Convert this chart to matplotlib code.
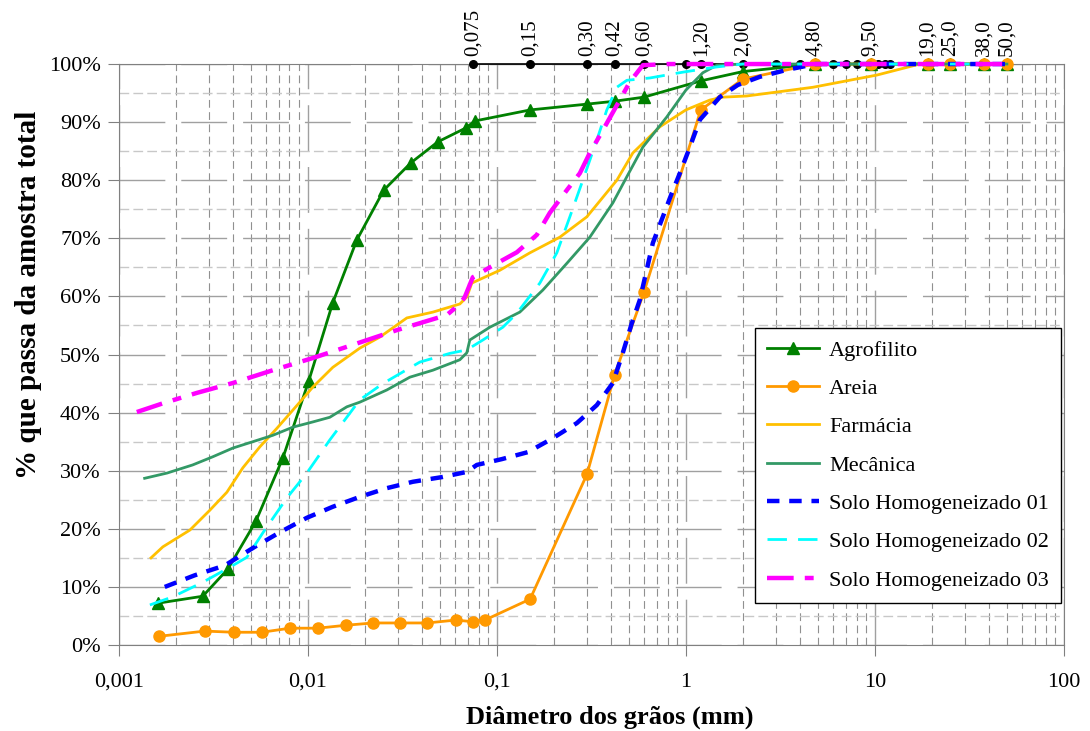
import numpy as np
import matplotlib.pyplot as plt
from matplotlib.ticker import FixedLocator, FuncFormatter, NullFormatter

plt.rcParams['font.family'] = ['Liberation Serif', 'DejaVu Serif']

# sieve reference line (top)
peneira_d = [0.075, 0.15, 0.30, 0.42, 0.60, 1.0, 1.20, 2.00, 3.0, 4.0, 4.80, 6.0, 7.0, 8.0,
             9.50, 10.4, 11.3, 12.0, 19.0, 25.0, 38.0, 50.0]
peneira_lbl_d = [0.075, 0.15, 0.30, 0.42, 0.60, 1.20, 2.00, 4.80, 9.50, 19.0, 25.0, 38.0, 50.0]
peneira_lbl = ['0,075', '0,15', '0,30', '0,42', '0,60', '1,20', '2,00', '4,80', '9,50',
               '19,0', '25,0', '38,0', '50,0']

agro_d = [0.00161, 0.00278, 0.00378, 0.00531, 0.00738, 0.0101, 0.01355, 0.01816, 0.02523,
          0.0351, 0.0487, 0.0686, 0.0765, 0.15, 0.30, 0.42, 0.60, 1.20, 2.00, 4.80, 9.50,
          19.0, 25.0, 38.0, 50.0]
agro_p = [7.2, 8.4, 13.1, 21.3, 32.2, 45.4, 58.9, 69.7, 78.3, 83.0, 86.6, 89.0, 90.2, 92.1,
          93.1, 93.6, 94.3, 97.1, 98.7, 100, 100, 100, 100, 100, 100]

areia_d = [0.00163, 0.00285, 0.00406, 0.00571, 0.00804, 0.0113, 0.01588, 0.0221, 0.0307,
           0.0428, 0.0608, 0.075, 0.0865, 0.15, 0.30, 0.42, 0.60, 1.20, 2.00, 4.80, 9.50,
           19.0, 25.0, 38.0, 50.0]
areia_p = [1.5, 2.4, 2.2, 2.2, 2.9, 2.9, 3.4, 3.8, 3.8, 3.8, 4.3, 4.0, 4.3, 7.9, 29.4, 46.5,
           60.7, 92.1, 97.4, 100, 100, 100, 100, 100, 100]

farm_d = [0.00148, 0.00171, 0.00238, 0.00303, 0.00373, 0.00453, 0.00557, 0.00686, 0.00907,
          0.01063, 0.01356, 0.01884, 0.02404, 0.03341, 0.04586, 0.06372, 0.06938, 0.07374,
          0.1037, 0.1495, 0.2154, 0.2994, 0.4315, 0.5244, 0.7287, 1.0, 1.34, 1.57, 2.1, 4.7,
          10.25, 17.3, 25.0, 38.0, 50.0]
farm_p = [15.0, 16.9, 19.8, 23.2, 26.3, 30.5, 34.1, 37.3, 41.8, 44.4, 47.8, 51.1, 53.0, 56.3,
          57.3, 58.7, 59.9, 62.3, 64.5, 67.5, 70.2, 73.7, 80.0, 84.7, 89.2, 92.1, 93.8, 94.3,
          94.5, 96.0, 98.1, 100, 100, 100, 100]

mec_d = [0.00137, 0.0018, 0.00246, 0.00314, 0.00401, 0.00512, 0.00653, 0.00833, 0.01063,
         0.01307, 0.01608, 0.01884, 0.02618, 0.03465, 0.04586, 0.06372, 0.06938, 0.07196,
         0.09183, 0.1323, 0.1752, 0.2347, 0.3105, 0.4111, 0.4873, 0.5924, 0.7935, 1.0, 1.23,
         1.46, 2.0, 4.8, 9.5, 19.0, 25.0, 38.0, 50.0]
mec_p = [28.7, 29.6, 31.0, 32.4, 33.9, 35.0, 36.1, 37.5, 38.4, 39.2, 41.0, 41.8, 43.9, 46.1,
         47.3, 49.1, 50.3, 52.5, 54.7, 57.3, 61.1, 65.7, 70.2, 76.1, 80.6, 85.7, 90.9, 95.5,
         98.5, 99.8, 100, 100, 100, 100, 100, 100, 100]

sh01_d = [0.00175, 0.00252, 0.00364, 0.00524, 0.00711, 0.00988, 0.01356, 0.01884, 0.02618,
          0.03594, 0.05117, 0.06938, 0.07836, 0.1063, 0.1459, 0.1954, 0.2651, 0.3381, 0.4111,
          0.4642, 0.518, 0.571, 0.6692, 0.7558, 0.8433, 0.9297, 1.05, 1.186, 1.513, 1.884,
          2.464, 3.422, 4.368, 4.8, 9.5, 19.0, 25.0, 38.0, 50.0]
sh01_p = [10.0, 12.0, 13.7, 16.9, 19.4, 21.9, 23.8, 25.5, 27.0, 28.1, 28.9, 29.8, 31.0, 32.0,
          33.2, 35.5, 38.2, 41.3, 45.1, 50.3, 55.4, 59.4, 69.2, 73.7, 77.8, 81.2, 85.7, 90.4,
          94.3, 96.4, 97.8, 99.0, 99.7, 100, 100, 100, 100, 100, 100]

sh02_d = [0.00146, 0.00193, 0.00278, 0.00387, 0.00476, 0.00578, 0.00774, 0.00988, 0.01307,
          0.01668, 0.01884, 0.02494, 0.03914, 0.05641, 0.06938, 0.08433, 0.1076, 0.1276,
          0.1689, 0.2077, 0.2434, 0.2851, 0.3381, 0.3819, 0.4315, 0.4873, 0.6451, 0.9641,
          1.459, 2.0, 4.8, 9.5, 19.0, 25.0, 38.0, 50.0]
sh02_p = [6.9, 8.3, 10.8, 13.4, 15.1, 19.3, 25.3, 29.6, 35.3, 39.9, 42.2, 45.0, 48.7, 50.2,
          50.8, 52.5, 54.7, 57.1, 62.3, 67.5, 73.7, 80.0, 86.9, 92.1, 96.0, 97.2, 97.6, 98.6,
          99.5, 100, 100, 100, 100, 100, 100, 100]

sh03_d = [0.001245, 0.00171, 0.00259, 0.00401, 0.00653, 0.01063, 0.01668, 0.02958, 0.05437,
          0.06372, 0.06771, 0.07464, 0.1, 0.1276, 0.1628, 0.1908, 0.2347, 0.2749, 0.3105,
          0.3638, 0.4315, 0.5055, 0.5924, 0.8, 1.2, 2.0, 4.8, 9.5, 19.0, 25.0, 38.0, 50.0]
sh03_p = [40.1, 41.6, 43.4, 45.1, 47.3, 49.4, 51.5, 54.2, 56.8, 58.7, 59.9, 63.3, 65.7, 67.6,
          70.6, 74.4, 78.3, 81.2, 84.7, 88.6, 92.9, 96.9, 99.8, 100, 100, 100, 100, 100, 100,
          100, 100, 100]

fig = plt.figure(figsize=(10.9, 7.31), dpi=100)
ax = fig.add_axes([0.109, 0.1176, 0.8670, 0.7948])

ax.set_xscale('log')
ax.set_xlim(0.001, 100)
ax.set_ylim(0, 100)

# grid
ax.yaxis.set_major_locator(FixedLocator(np.arange(0, 101, 10)))
ax.yaxis.set_minor_locator(FixedLocator(np.arange(5, 100, 10)))
ax.grid(True, which='major', axis='both', color='#a0a0a0', lw=1, ls=(0, (33, 11.5)))
ax.grid(True, which='minor', axis='x', color='#909090', lw=0.8, ls=(0, (7, 4)))
ax.grid(True, which='minor', axis='y', color='#c8c8c8', lw=1, ls=(0, (7, 3)))
ax.set_axisbelow(True)

ax.plot(peneira_d, [100] * len(peneira_d), color='black', lw=1.2, marker='o', ms=5.5,
        zorder=3, clip_on=False)

ax.plot(agro_d, agro_p, color='#008000', lw=2, marker='^', ms=8, label='Agrofilito',
        zorder=4, clip_on=False)
ax.plot(areia_d, areia_p, color='#FF9900', lw=2, marker='o', ms=8, label='Areia',
        zorder=4, clip_on=False)
ax.plot(farm_d, farm_p, color='#FFC000', lw=2, label='Farmácia', zorder=4, clip_on=False)
ax.plot(mec_d, mec_p, color='#339966', lw=2, label='Mecânica', zorder=4, clip_on=False)
ax.plot(sh01_d, sh01_p, color='#0000FF', lw=3.2, ls=(0, (2.8, 2.2)),
        label='Solo Homogeneizado 01', zorder=5, clip_on=False)
ax.plot(sh02_d, sh02_p, color='#00FFFF', lw=2, ls=(0, (7, 4)),
        label='Solo Homogeneizado 02', zorder=5, clip_on=False)
ax.plot(sh03_d, sh03_p, color='#FF00FF', lw=3.2, ls=(0, (6, 2.5, 2, 2.5)),
        label='Solo Homogeneizado 03', zorder=5, clip_on=False)

for d, t in zip(peneira_lbl_d, peneira_lbl):
    ax.annotate(t, xy=(d, 100), xytext=(0, 6), textcoords='offset points', rotation=90,
                ha='center', va='bottom', fontsize=15, annotation_clip=False)

ax.xaxis.set_major_locator(FixedLocator([0.001, 0.01, 0.1, 1, 10, 100]))
ax.xaxis.set_major_formatter(FuncFormatter(lambda v, p: ('%g' % v).replace('.', ',')))
ax.xaxis.set_minor_formatter(NullFormatter())
ax.yaxis.set_major_formatter(FuncFormatter(lambda v, p: '%d%%' % v))
ax.tick_params(axis='both', which='major', labelsize=16, length=8, color='#808080', pad=5)
ax.tick_params(axis='x', which='major', pad=12)
ax.tick_params(axis='both', which='minor', length=0)
for s in ax.spines.values():
    s.set_color('#808080')

ax.set_xlabel('Diâmetro dos grãos (mm)', fontsize=19, fontweight='bold')
ax.set_ylabel('% que passa da amostra total', fontsize=21, fontweight='bold')
ax.xaxis.set_label_coords(0.52, -0.104)
ax.yaxis.set_label_coords(-0.081, 0.602)

leg = ax.legend(loc='upper left', bbox_to_anchor=(0.673, 0.546), fontsize=16,
                handlelength=2.35, handletextpad=0.45, labelspacing=0.8, borderpad=0.55,
                borderaxespad=0, fancybox=False, framealpha=1, edgecolor='black')
leg.get_frame().set_linewidth(1)

plt.savefig('out.png', dpi=100)
